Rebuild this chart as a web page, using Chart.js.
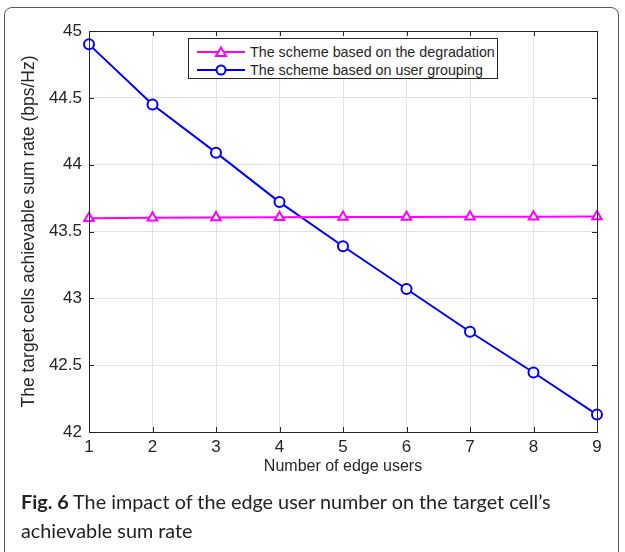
<!DOCTYPE html>
<html>
<head>
<meta charset="utf-8">
<script src="https://cdn.jsdelivr.net/npm/chart.js@4.4.1/dist/chart.umd.min.js"></script>
<style>
  body { margin: 0; background: #fff; }
  #wrap { position: relative; width: 625px; height: 552px; overflow: hidden; }
  #card { position: absolute; left: 4px; top: 7px; width: 615px; height: 570px;
          border: 1.5px solid #555; border-radius: 8px; box-sizing: border-box; }
  canvas { position: absolute; left: 0; top: 0; }
  #legend { position: absolute; left: 188px; top: 38px; width: 310px; height: 41px;
            border: 1px solid #262626; background: #fff; box-sizing: border-box;
            font: 14.3px "Liberation Sans", Arial, sans-serif; color: #262626; white-space: nowrap; }
  .row { position: absolute; left: 8px; height: 18px; display: flex; align-items: center; }
  .row svg { margin-right: 5px; flex: none; }
  #caption { position: absolute; left: 21px; top: 487px; width: 590px;
             font: 19.8px Lato, "Open Sans", sans-serif; color: #222; line-height: 29px; }
</style>
</head>
<body>
<div id="wrap">
  <div id="card"></div>
  <canvas id="grafico" width="625" height="552"></canvas>
  <div id="legend"></div>
  <div id="caption"><b>Fig. 6</b> The impact of the edge user number on the target cell’s<br>achievable sum rate</div>
</div>
<script>
const usuarios = [1, 2, 3, 4, 5, 6, 7, 8, 9];
const degradacion = [43.600, 43.602, 43.604, 43.606, 43.608, 43.609, 43.610, 43.611, 43.612];
const agrupacion = [44.90, 44.45, 44.09, 43.72, 43.39, 43.07, 42.75, 42.445, 42.13];
const nombres = ['The scheme based on the degradation', 'The scheme based on user grouping'];
const ejeY = [42, 42.5, 43, 43.5, 44, 44.5, 45];

const colores = ['#ff00ff', '#0000ff'];
const estilos = ['triangle', 'circle'];

// leyenda en html, con línea y marcador
const leyenda = document.getElementById('legend');
nombres.forEach((n, i) => {
    const marca = i === 0
        ? '<polygon points="24,2.5 29,11 19,11" fill="#fff" stroke="' + colores[i] + '" stroke-width="2"/>'
        : '<circle cx="24" cy="7" r="4.5" fill="#fff" stroke="' + colores[i] + '" stroke-width="2"/>';
    const fila = document.createElement('div');
    fila.className = 'row';
    fila.style.top = (i === 0 ? 4 : 22) + 'px';
    fila.innerHTML = '<svg width="48" height="14"><line x1="0" y1="7" x2="48" y2="7" stroke="' +
        colores[i] + '" stroke-width="2"/>' + marca + '</svg><span>' + n + '</span>';
    leyenda.appendChild(fila);
});

// caja y marcas hacia dentro, estilo matlab
const cajaMatlab = {
    id: 'cajaMatlab',
    afterDatasetsDraw(chart) {
        const {ctx, chartArea: a, scales: {x, y}} = chart;
        ctx.save();
        ctx.strokeStyle = '#262626';
        ctx.lineWidth = 1;
        ctx.strokeRect(a.left + 0.5, a.top + 0.5, a.right - a.left, a.bottom - a.top);
        ctx.beginPath();
        usuarios.forEach(v => {
            const px = Math.round(x.getPixelForValue(v)) + 0.5;
            ctx.moveTo(px, a.bottom); ctx.lineTo(px, a.bottom - 5);
            ctx.moveTo(px, a.top); ctx.lineTo(px, a.top + 5);
        });
        ejeY.forEach(v => {
            const py = Math.round(y.getPixelForValue(v)) + 0.5;
            ctx.moveTo(a.left, py); ctx.lineTo(a.left + 5, py);
            ctx.moveTo(a.right, py); ctx.lineTo(a.right - 5, py);
        });
        ctx.stroke();
        ctx.restore();
    }
};

const fuente = {family: '"Liberation Sans", Arial, sans-serif', size: 17};

new Chart(document.getElementById('grafico'), {
    type: 'line',
    data: {
        datasets: [
            {
                label: nombres[0],
                data: usuarios.map((u, i) => ({x: u, y: degradacion[i]})),
                borderColor: colores[0],
                backgroundColor: '#fff',
                pointStyle: estilos[0],
                pointRadius: 5.5,
                pointBorderWidth: 2,
                borderWidth: 2,
                clip: false
            },
            {
                label: nombres[1],
                data: usuarios.map((u, i) => ({x: u, y: agrupacion[i]})),
                borderColor: colores[1],
                backgroundColor: '#fff',
                pointStyle: estilos[1],
                pointRadius: 5,
                pointBorderWidth: 2,
                borderWidth: 2,
                clip: false
            }
        ]
    },
    options: {
        responsive: false,
        animation: false,
        layout: {padding: {left: 0, top: 31, right: 28, bottom: 70}},
        plugins: {legend: {display: false}, tooltip: {enabled: false}},
        scales: {
            x: {
                type: 'linear',
                min: 1, max: 9,
                afterFit: s => { s.height = 50; },
                afterBuildTicks: s => { s.ticks = usuarios.map(v => ({value: v})); },
                grid: {color: '#e3e3e3', drawTicks: false},
                border: {display: false},
                ticks: {color: '#262626', font: fuente, padding: 5, maxRotation: 0},
                title: {display: true, text: 'Number of edge users', color: '#262626',
                        font: {family: fuente.family, size: 16}, padding: {top: 0, bottom: 6}}
            },
            y: {
                min: 42, max: 45,
                afterFit: s => { s.width = 89; },
                afterBuildTicks: s => { s.ticks = ejeY.map(v => ({value: v})); },
                grid: {color: '#e3e3e3', drawTicks: false},
                border: {display: false},
                ticks: {color: '#262626', font: fuente, padding: 7, callback: v => String(v)},
                title: {display: true, text: 'The target cells achievable sum rate (bps/Hz)',
                        color: '#262626', font: {family: fuente.family, size: 17.5},
                        padding: {top: 19, bottom: 0}}
            }
        }
    },
    plugins: [cajaMatlab]
});
</script>
</body>
</html>
